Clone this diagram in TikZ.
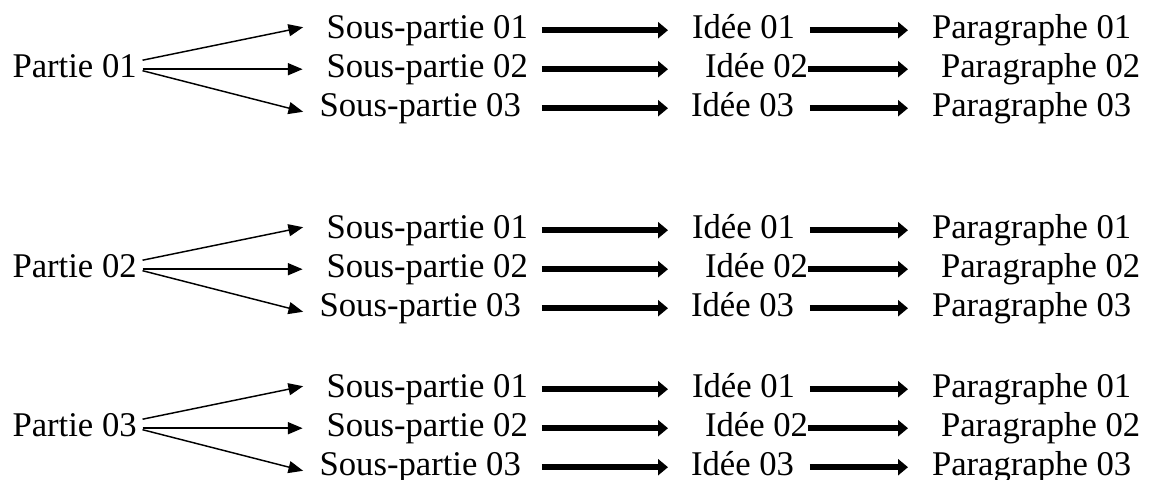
\documentclass[tikz,border=0pt]{standalone}
\usepackage{fontspec}
\setmainfont{Liberation Serif}
\usetikzlibrary{arrows.meta}

\tikzset{
  txt/.style={font=\fontsize{26}{30}\selectfont, inner sep=0pt, outer sep=0pt,
    text height=11.7pt, text depth=0pt, anchor=base west},
  fan/.style={-{Triangle[length=11pt,width=9pt]}, line width=1.1pt,
    shorten <=4.5pt, shorten >=18pt},
  fat/.style={-{Triangle[length=7.5pt,width=12pt]}, line width=4.8pt,
    shorten <=10.5pt, shorten >=18pt},
}

\begin{document}
\begin{tikzpicture}[x=0.75pt,y=-0.75pt]
  \useasboundingbox (0,0) rectangle (1150,479);

  \foreach \g/\y in {1/77, 2/277, 3/436} {
    % Labels
    \node[txt] (part\g) at (12.5,\y) {Partie 0\g};
    \node[txt] (souA\g) at (326.6,\y-39) {Sous-partie 01};
    \node[txt] (souB\g) at (326.6,\y) {Sous-partie 02};
    \node[txt] (souC\g) at (319.6,\y+39) {Sous-partie 03};
    \node[txt] (ideA\g) at (692,\y-39) {Idée 01};
    \node[txt] (ideB\g) at (705,\y) {Idée 02};
    \node[txt] (ideC\g) at (691,\y+39) {Idée 03};
    \node[txt] (parA\g) at (932,\y-39) {Paragraphe 01};
    \node[txt] (parB\g) at (941,\y) {Paragraphe 02};
    \node[txt] (parC\g) at (932,\y+39) {Paragraphe 03};

    % Partie to sous-parties
    \draw[fan] (part\g.north east) -- (souA\g.north west);
    \draw[fan] (part\g.east) -- (souB\g.west);
    \draw[fan, shorten >=12.75pt] (part\g.east) -- (souC\g.south west);

    % Sous-parties to idees
    \draw[fat] (souA\g.east) -- (ideA\g.west);
    \draw[fat, shorten >=27.75pt] (souB\g.east) -- (ideB\g.west);
    \draw[fat, shorten <=15.75pt, shorten >=17.25pt] (souC\g.east) -- (ideC\g.west);

    % Idees to paragraphes
    \draw[fat, shorten <=11.25pt] (ideA\g.east) -- (parA\g.west);
    \draw[fat, shorten <=0pt, shorten >=24.75pt] (ideB\g.east) -- (parB\g.west);
    \draw[fat, shorten <=12pt] (ideC\g.east) -- (parC\g.west);
  }
\end{tikzpicture}
\end{document}
